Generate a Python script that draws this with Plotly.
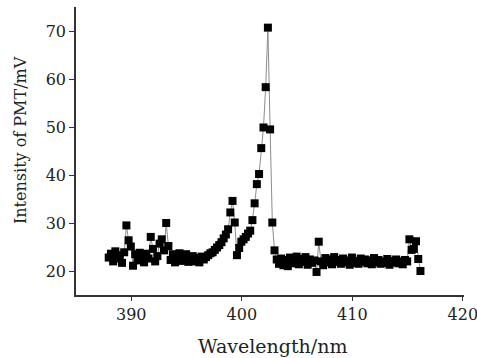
import plotly.graph_objects as go

wavelength_nm = [
    387.96, 388.16, 388.36, 388.56, 388.76, 388.96, 389.16, 389.36, 389.56, 389.76,
    389.96, 390.16, 390.36, 390.56, 390.76, 390.96, 391.16, 391.36, 391.56, 391.76,
    391.96, 392.16, 392.36, 392.56, 392.76, 392.96, 393.16, 393.36, 393.56, 393.76,
    393.96, 394.16, 394.36, 394.56, 394.76, 394.96, 395.16, 395.36, 395.56, 395.76,
    395.96, 396.16, 396.36, 396.56, 396.76, 396.96, 397.16, 397.36, 397.56, 397.76,
    397.96, 398.16, 398.36, 398.56, 398.76, 398.96, 399.16, 399.36, 399.56, 399.76,
    399.96, 400.16, 400.36, 400.56, 400.76, 400.96, 401.16, 401.36, 401.56, 401.76,
    401.96, 402.16, 402.36, 402.56, 402.76, 402.96, 403.16, 403.36, 403.56, 403.76,
    403.96, 404.16, 404.36, 404.56, 404.76, 404.96, 405.16, 405.36, 405.56, 405.76,
    405.96, 406.16, 406.36, 406.56, 406.76, 406.96, 407.16, 407.36, 407.56, 407.76,
    407.96, 408.16, 408.36, 408.56, 408.76, 408.96, 409.16, 409.36, 409.56, 409.76,
    409.96, 410.16, 410.36, 410.56, 410.76, 410.96, 411.16, 411.36, 411.56, 411.76,
    411.96, 412.16, 412.36, 412.56, 412.76, 412.96, 413.16, 413.36, 413.56, 413.76,
    413.96, 414.16, 414.36, 414.56, 414.76, 414.96, 415.16, 415.36, 415.56, 415.76,
    415.96, 416.16,
]

intensity_mV = [
    22.8, 23.6, 22.0, 24.1, 22.6, 23.3, 21.7, 23.9, 29.5, 26.4,
    25.1, 21.1, 23.5, 22.2, 23.8, 22.5, 21.8, 23.6, 22.6, 27.1,
    24.6, 22.0, 23.1, 25.7, 26.6, 24.3, 30.0, 25.2, 22.3, 23.5,
    21.8, 22.9, 23.7, 22.1, 22.8, 23.5, 21.9, 22.7, 23.1, 22.0,
    22.7, 21.8, 23.0, 22.4, 22.9, 23.3, 23.7, 23.9, 24.4, 24.9,
    25.4, 26.0, 26.8, 27.6, 28.7, 32.2, 34.6, 30.1, 23.3, 24.8,
    26.1, 26.6, 27.1, 27.8, 28.4, 30.6, 34.1, 38.1, 40.2, 45.6,
    49.9, 58.3, 70.7, 49.5, 30.1, 24.3, 22.4, 21.5, 22.6, 21.2,
    22.3, 21.0, 22.8, 21.6, 22.1, 23.0, 21.4, 22.5, 21.9, 22.9,
    21.3, 22.4, 21.7, 22.2, 19.8, 26.1, 22.0, 21.2, 22.7, 21.8,
    22.4, 21.4, 22.9, 21.9, 22.3, 21.5, 22.6, 21.8, 22.2, 21.3,
    22.8, 21.7, 22.1, 21.5, 22.6, 21.9, 22.4, 21.6, 22.2, 21.4,
    22.7, 21.8, 22.3, 21.5, 22.0, 21.7, 22.5, 21.3, 22.1, 21.8,
    22.4, 21.6, 22.0, 21.4, 22.3, 22.0, 26.6, 24.4, 24.6, 26.2,
    22.5, 20.0,
]

x_ticks = [390, 400, 410, 420]
y_ticks = [20, 30, 40, 50, 60, 70]

assert len(wavelength_nm) == len(intensity_mV)

FONT = "DejaVu Serif"
L, R, T, B = 76, 13, 7, 63
W, H = 477, 358
PW, PH = W - L - R, H - T - B

fig = go.Figure()
fig.add_trace(go.Scatter(
    x=wavelength_nm,
    y=intensity_mV,
    mode="lines+markers",
    line=dict(color="#8c8c8c", width=1),
    marker=dict(symbol="square", size=8, color="black", line=dict(width=0)),
    showlegend=False,
))

axis_common = dict(
    ticks="outside",
    tickwidth=1.2,
    tickcolor="#333333",
    showline=True,
    linecolor="#333333",
    linewidth=1.5,
    showgrid=False,
    zeroline=False,
    automargin=False,
    ticklabeloverflow="allow",
    tickfont=dict(family=FONT, size=16, color="#222222"),
)

fig.update_layout(
    width=W,
    height=H,
    margin=dict(l=L, r=R, t=T, b=B),
    plot_bgcolor="white",
    paper_bgcolor="white",
    font=dict(family=FONT, color="#222222", size=16),
    xaxis=dict(range=[385, 420.1], tickvals=x_ticks, ticklen=4, **axis_common),
    yaxis=dict(range=[15, 75], tickvals=y_ticks, ticklen=5, **axis_common),
    annotations=[
        dict(
            text="Wavelength/nm", xref="paper", yref="paper",
            x=(272 - L) / PW, y=(H - B - 346) / PH,
            xanchor="center", yanchor="middle", showarrow=False,
            font=dict(family=FONT, size=19, color="#222222"),
        ),
        dict(
            text="Intensity of PMT/mV", xref="paper", yref="paper",
            x=(20 - L) / PW, y=(H - B - 140) / PH,
            xanchor="center", yanchor="middle", showarrow=False, textangle=-90,
            font=dict(family=FONT, size=16, color="#222222"),
        ),
    ],
)

fig.write_html(
    "out.html",
    config={"displayModeBar": False},
    post_script="document.body.style.margin='0';document.body.style.overflow='hidden';",
)
